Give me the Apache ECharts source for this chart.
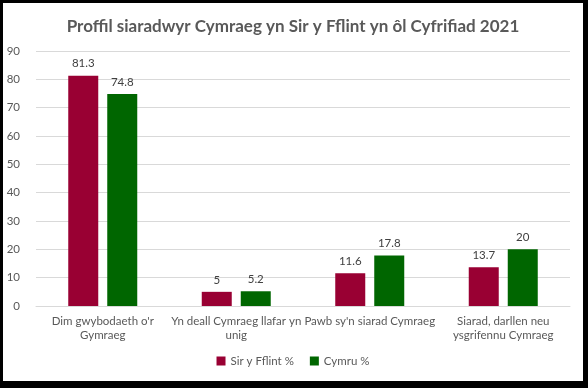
<!DOCTYPE html>
<html><head><meta charset="utf-8">
<script src="https://cdn.jsdelivr.net/npm/echarts@6/dist/echarts.min.js"></script>
<style>
html,body{margin:0;padding:0;background:#000;}
#frame{position:absolute;left:0;top:0;width:588px;height:388px;background:#000;}
#chart{position:absolute;left:3px;top:3px;width:580px;height:378px;background:#fff;}
</style></head>
<body><div id="frame"><div id="chart"></div></div>
<script>
const title = 'Proffil siaradwyr Cymraeg yn Sir y Fflint yn ôl Cyfrifiad 2021';
const categories = ["Dim gwybodaeth o'r\nGymraeg", "Yn deall Cymraeg llafar yn\nunig", "Pawb sy'n siarad Cymraeg", "Siarad, darllen neu\nysgrifennu Cymraeg"];
const seriesNames = ['Sir y Fflint %', 'Cymru %'];
const flintValues = [81.3, 5, 11.6, 13.7];
const cymruValues = [74.8, 5.2, 17.8, 20];
const colors = ['#990033', '#006600'];

const chart = echarts.init(document.getElementById('chart'), null, {renderer: 'canvas'});
const font = 'Lato, Open Sans, sans-serif';
chart.setOption({
  animation: false,
  textStyle: {fontFamily: font},
  title: {text: title, left: 'center', top: 10,
    textStyle: {fontFamily: font, fontSize: 17, fontWeight: 'bold', color: '#595959'}},
  legend: {bottom: 9, left: 'center', itemWidth: 9, itemHeight: 9, itemGap: 16, icon: 'rect',
    textStyle: {fontSize: 11.5, color: '#595959', fontFamily: font}, data: seriesNames},
  grid: {left: 33, right: 13, top: 48, bottom: 75},
  xAxis: {type: 'category', data: categories,
    axisLine: {lineStyle: {color: '#d9d9d9'}}, axisTick: {show: false},
    axisLabel: {color: '#595959', fontSize: 11.5, interval: 0, margin: 8, lineHeight: 14, fontFamily: font}},
  yAxis: {type: 'value', min: 0, max: 90, interval: 10,
    axisLine: {show: false}, axisTick: {show: false},
    splitLine: {lineStyle: {color: '#d9d9d9'}},
    axisLabel: {color: '#595959', fontSize: 11.5, margin: 16, fontFamily: font}},
  series: [
    {name: seriesNames[0], type: 'bar', data: flintValues, barWidth: 30, barGap: '30%',
      itemStyle: {color: colors[0]},
      label: {show: true, position: 'top', distance: 6, color: '#404040', fontSize: 11.5, fontFamily: font}},
    {name: seriesNames[1], type: 'bar', data: cymruValues, barWidth: 30,
      itemStyle: {color: colors[1]},
      label: {show: true, position: 'top', distance: 6, color: '#404040', fontSize: 11.5, fontFamily: font}}
  ]
});
</script></body></html>
